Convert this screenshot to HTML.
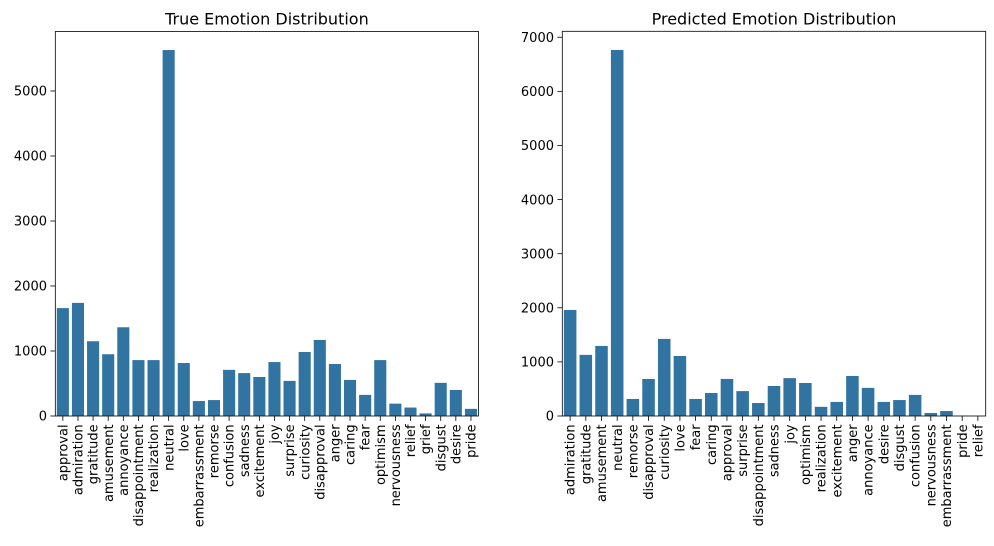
<!DOCTYPE html>
<html><head><meta charset="utf-8"><style>
body{margin:0;background:#fff;width:994px;height:546px;overflow:hidden}
svg{display:block;font-family:"DejaVu Sans","Liberation Sans",sans-serif}
</style></head><body>
<svg id="fig" width="994" height="546" viewBox="0 0 994 546"></svg>
<script>
const trueCats=["approval","admiration","gratitude","amusement","annoyance","disappointment","realization","neutral","love","embarrassment","remorse","confusion","sadness","excitement","joy","surprise","curiosity","disapproval","anger","caring","fear","optimism","nervousness","relief","grief","disgust","desire","pride"];
const trueVals=[1660,1740,1150,950,1365,860,860,5630,815,230,245,710,660,600,830,540,985,1170,800,555,325,860,190,130,40,510,400,110];
const trueTicks=[0,1000,2000,3000,4000,5000];
const predCats=["admiration","gratitude","amusement","neutral","remorse","disapproval","curiosity","love","fear","caring","approval","surprise","disappointment","sadness","joy","optimism","realization","excitement","anger","annoyance","desire","disgust","confusion","nervousness","embarrassment","pride","relief"];
const predVals=[1960,1130,1295,6765,315,685,1425,1110,315,425,685,460,240,555,700,610,170,260,740,520,260,295,390,55,92,3,2];
const predTicks=[0,1000,2000,3000,4000,5000,6000,7000];
const NS="http://www.w3.org/2000/svg";
const svg=document.getElementById('fig');
function mk(tag,attrs,parent){const e=document.createElementNS(NS,tag);for(const k in attrs)e.setAttribute(k,attrs[k]);(parent||svg).appendChild(e);return e;}
function chart(id,title,cats,vals,ticks,x0,x1,y0,y1,ymax){
  const g=mk('g',{});
  
  
  const yS=v=>y1-(v/ymax)*(y1-y0);
  const band=(x1-x0)/cats.length;
  const xS=i=>x0+band*(i+0.5);
  cats.forEach((c,i)=>{
    const r=mk('rect',{x:xS(i)-band*0.4,y:yS(vals[i]),width:band*0.8,height:y1-yS(vals[i]),fill:'#3274a1'},g);
    
    
    mk('line',{x1:xS(i),x2:xS(i),y1:y1,y2:y1+4.9,stroke:'#000','stroke-width':0.8},g);
    const t=mk('text',{x:0,y:0,transform:`translate(${xS(i)+4.6},${y1+8.4}) rotate(-90)`,'text-anchor':'end','font-size':'13px',fill:'#000'},g);
    t.textContent=c;
    
    
  });
  ticks.forEach(v=>{
    mk('line',{x1:x0-4.9,x2:x0,y1:yS(v),y2:yS(v),stroke:'#000','stroke-width':0.8},g);
    const t=mk('text',{x:x0-8.3,y:yS(v)+4.7,'text-anchor':'end','font-size':'13px',fill:'#000'},g);
    t.textContent=v;
    
    
  });
  const fr=mk('rect',{x:x0,y:y0,width:x1-x0,height:y1-y0,fill:'none',stroke:'#000','stroke-width':0.8},g);
  
  
  const tt=mk('text',{x:(x0+x1)/2,y:y0-7,'text-anchor':'middle','font-size':'16px',fill:'#000'},g);
  tt.textContent=title;
  
  
}
chart('true-emotion','True Emotion Distribution',trueCats,trueVals,trueTicks,55.3,478.5,31.5,416,5915);
chart('predicted-emotion','Predicted Emotion Distribution',predCats,predVals,predTicks,562.3,985.7,31.3,416,7110);
</script>
</body></html>
